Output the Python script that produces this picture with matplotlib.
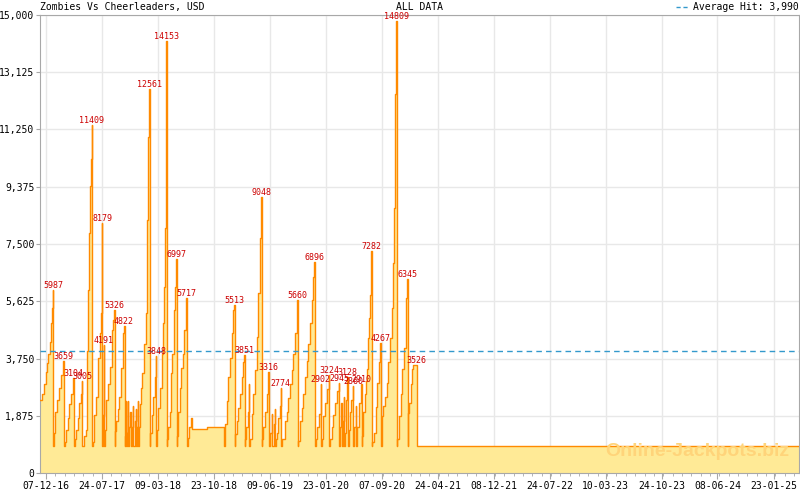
import matplotlib
matplotlib.use('Agg')
import matplotlib.pyplot as plt
import matplotlib.dates as mdates
from matplotlib.lines import Line2D
import numpy as np
import pandas as pd

# first record and day offsets of every step of the jackpot
start = pd.Timestamp('2016-11-13')
days = [
    0, 8, 16, 24, 29, 33, 39, 45, 49, 53,
    55, 57, 63, 69, 78, 86, 94,
    96, 100, 106, 114, 120, 126, 135,
    137, 141, 147, 155, 161, 167, 171,
    173, 180, 186, 190, 192, 194, 200, 204, 208, 212,
    214, 216, 220, 228, 237, 243, 249, 253,
    255, 257, 261,
    263, 265, 269, 277, 286, 292, 298, 302,
    304, 306, 312, 318, 324, 330, 339, 343,
    345, 347, 349, 351, 355, 359, 361, 365, 369, 371, 375, 379, 381, 386, 390, 392, 396, 399, 401,
    404, 408, 412, 418, 424, 426, 432, 437, 442, 446,
    448, 449, 455, 461, 469, 473,
    475, 479, 483, 490, 496, 502, 506, 510, 513, 515,
    517, 520, 524, 530, 534, 540, 545, 551, 555,
    557, 559, 565, 571, 577, 583, 589, 596,
    598, 602, 608, 616, 620, 681, 751,
    755, 762, 768, 775, 782, 789, 793,
    795, 797, 803, 809, 816, 823, 830, 834,
    836, 838, 842, 847, 851,
    853, 857, 864, 870, 877, 884, 891, 896, 902,
    904, 907, 911, 918, 925, 931,
    933, 938, 945, 947, 955, 957,
    959, 961, 966, 972, 979, 983,
    985, 989, 1000, 1007, 1013, 1020, 1027, 1033, 1040, 1049,
    1051, 1054, 1061, 1068, 1074, 1081, 1088, 1095, 1102, 1109, 1115, 1119,
    1121, 1125, 1131, 1138, 1145,
    1147, 1151, 1156, 1163, 1170, 1179,
    1181, 1183, 1190, 1197, 1204, 1211, 1220,
    1222, 1226, 1230, 1232, 1236, 1240,
    1242, 1244, 1248, 1253,
    1255, 1259, 1265, 1271, 1277,
    1279, 1283, 1289, 1291, 1295, 1302, 1310,
    1312, 1314, 1319, 1326, 1331, 1335, 1339, 1344, 1348, 1352,
    1354, 1356, 1363, 1370, 1376, 1383, 1388,
    1390, 1394, 1401, 1408, 1415, 1421, 1428, 1435, 1440, 1444, 1448, 1454,
    1456, 1458, 1465, 1472, 1478, 1485, 1492, 1499,
    1501, 1503, 1507, 1512, 1517, 1521,
    1539, 3097,
]
amount = [
    2400, 2600, 2900, 3300, 3600, 3900, 4300, 4900, 5400, 5987,
    900, 1300, 2000, 2400, 2800, 3200, 3659,
    900, 1000, 1400, 1800, 2250, 2600, 3104,
    900, 1100, 1400, 1800, 2300, 2600, 3005,
    900, 1200, 1400, 2600, 4000, 6000, 7850, 9400, 10300, 11409,
    900, 1000, 1900, 2500, 3780, 4570, 5230, 8179,
    900, 1900, 4191,
    900, 1400, 2400, 2900, 3470, 4670, 5000, 5326,
    900, 1380, 1700, 2100, 2500, 3450, 4570, 4822,
    900, 1200, 2370, 900, 1300, 2370, 900, 1500, 2000, 900, 1500, 2200, 900, 1700, 2100, 900, 1500, 2350, 900,
    1500, 2270, 2800, 3260, 3400, 4240, 5230, 8290, 11020, 12561,
    900, 1300, 1900, 2500, 3130, 3848,
    900, 1400, 2140, 2800, 3900, 4900, 6090, 8030, 11350, 14153,
    900, 1100, 1500, 2000, 3260, 3900, 5330, 6090, 6997,
    900, 1200, 2000, 2800, 3450, 3900, 4670, 5717,
    900, 1150, 1500, 1800, 1450, 1500, 900,
    1600, 2370, 3130, 3780, 4570, 5330, 5513,
    900, 1280, 1700, 2140, 2600, 3130, 3620, 3851,
    900, 1100, 1500, 2000, 2900,
    900, 1100, 1940, 2600, 3360, 4440, 5890, 7700, 9048,
    900, 1100, 1500, 2000, 2600, 3316,
    900, 1300, 1940, 900, 1600, 2100,
    900, 1100, 1300, 1800, 2200, 2774,
    900, 1100, 1710, 2000, 2470, 2930, 3360, 3900, 4570, 5660,
    900, 1050, 1700, 2140, 2600, 3130, 3680, 4240, 4900, 5660, 6420, 6896,
    900, 1100, 1500, 1940, 2902,
    900, 1100, 1880, 2300, 2760, 3224,
    900, 1100, 1500, 1900, 2300, 2700, 2945,
    900, 1500, 2300, 900, 1700, 2500,
    900, 1300, 2400, 3128,
    900, 1400, 2000, 2400, 2860,
    900, 1500, 2200, 900, 1500, 2300, 2910,
    900, 1200, 2000, 2600, 3000, 3420, 4410, 5070, 5820, 7282,
    900, 1000, 1300, 2150, 2950, 3620, 4267,
    900, 1880, 2200, 2500, 2960, 3620, 4410, 5400, 6880, 8690, 12400, 14809,
    900, 1100, 1880, 2600, 3400, 4080, 5720, 6345,
    900, 1970, 2300, 2900, 3420, 3526,
    900, 900,
]

# hits shown with a label
peak_days = [53, 94, 135, 171, 212, 253, 261, 302, 343, 446, 473, 515, 555, 596,
             793, 834, 902, 931, 983, 1049, 1119, 1145, 1179, 1220, 1253, 1277,
             1310, 1352, 1388, 1454, 1499, 1537]
peak_hits = [5987, 3659, 3104, 3005, 11409, 8179, 4191, 5326, 4822, 12561, 3848,
             14153, 6997, 5717, 5513, 3851, 9048, 3316, 2774, 5660, 6896, 2902,
             3224, 2945, 3128, 2860, 2910, 7282, 4267, 14809, 6345, 3526]

avg_hit = 3990
last_day = 3097
y_ticks = [0, 1875, 3750, 5625, 7500, 9375, 11250, 13125, 15000]
x_ticks = ['2016-12-07', '2017-07-24', '2018-03-09', '2018-10-23', '2019-06-09',
           '2020-01-23', '2020-09-07', '2021-04-24', '2021-12-08', '2022-07-24',
           '2023-03-10', '2023-10-24', '2024-06-08', '2025-01-23']

mono = 'DejaVu Sans Mono'
dates = start + pd.to_timedelta(days, unit='D')
pdates = start + pd.to_timedelta(peak_days, unit='D')

fig = plt.figure(figsize=(8, 4.9), dpi=100)
ax = fig.add_axes([40 / 800, 17 / 490, 759 / 800, 458 / 490])

ax.fill_between(dates, amount, step='post', color='#FFEA96', lw=0, zorder=2)
ax.plot(dates, amount, drawstyle='steps-post', color='#FF8A00', lw=1, zorder=3)
ax.axhline(avg_hit, color='#3399CC', ls=(0, (4, 3)), lw=1, zorder=4)

for d, v in zip(pdates, peak_hits):
    ax.text(d, v, str(v), ha='center', va='bottom', color='#CC0000',
            fontsize=6, family=mono, zorder=5)

ax.text(0.987, 0.047, 'Online-Jackpots.biz', transform=ax.transAxes, ha='right',
        va='center', fontsize=14, fontweight='bold', family='Liberation Sans',
        color='#FFD47A', zorder=3)

ax.set_xlim(start, start + pd.Timedelta(days=last_day))
ax.set_ylim(0, 15000)

ax.set_yticks(y_ticks)
ax.set_yticklabels(['{:,}'.format(v) for v in y_ticks], family=mono, fontsize=7)
major = pd.to_datetime(x_ticks)
ax.set_xticks(major)
ax.set_xticklabels([d.strftime('%d-%m-%y') for d in major], family=mono, fontsize=7)
mnum = mdates.date2num(major)
step = (mnum[1] - mnum[0]) / 6
lo, hi = ax.get_xlim()
first = mnum[0] - step * np.floor((mnum[0] - lo) / step)
ax.set_xticks(np.arange(first, hi, step), minor=True)

ax.grid(True, which='major', color='#E8E8E8', lw=1, zorder=0)
ax.set_axisbelow(True)
for s in ax.spines.values():
    s.set_color('#A8A8A8')
ax.tick_params(axis='y', which='major', color='#A8A8A8', length=3, pad=1)
ax.tick_params(axis='x', which='major', color='#A8A8A8', length=4, pad=2)
ax.tick_params(axis='x', which='minor', color='#A8A8A8', length=2.5)

fig.text(40 / 800, 1 - 7 / 490, 'Zombies Vs Cheerleaders, USD', ha='left', va='center',
         family=mono, fontsize=7)
fig.text(420 / 800, 1 - 7 / 490, 'ALL DATA', ha='center', va='center',
         family=mono, fontsize=7)
fig.text(799 / 800, 1 - 7 / 490, 'Average Hit: 3,990', ha='right', va='center',
         family=mono, fontsize=7)
fig.add_artist(Line2D([676 / 800, 689 / 800], [1 - 7 / 490, 1 - 7 / 490],
                      transform=fig.transFigure, color='#3399CC', lw=1,
                      ls=(0, (3, 2))))

fig.savefig('out.png', dpi=100)
